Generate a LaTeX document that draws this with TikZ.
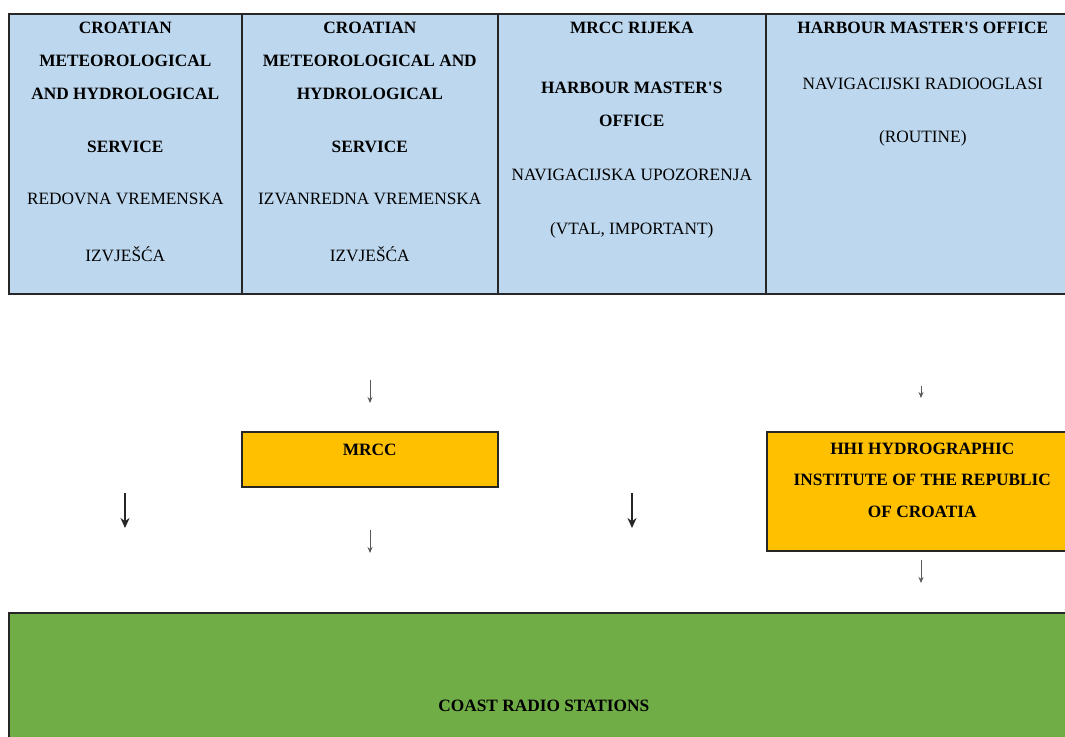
\documentclass[tikz,border=0pt]{standalone}
\usepackage{fontspec}
\setmainfont{Liberation Serif}
\usetikzlibrary{arrows.meta,positioning}
\definecolor{cellblue}{HTML}{BDD7EE}
\definecolor{boxorange}{HTML}{FFC000}
\definecolor{boxgreen}{HTML}{70AD47}
\definecolor{edgegray}{HTML}{262626}
\tikzset{
  cell/.style={draw=edgegray,line width=1.6pt,fill=cellblue,anchor=north west,minimum height=280,inner sep=0},
  obox/.style={draw=edgegray,line width=1.6pt,fill=boxorange,anchor=north west,inner sep=0},
  gbox/.style={draw=edgegray,line width=1.6pt,fill=boxgreen,anchor=north west,inner sep=0},
  celltext/.style={anchor=north,align=center,inner sep=0,font=\fontsize{17.3}{33}\selectfont},
  boxtext/.style={anchor=north,align=center,inner sep=0,font=\fontsize{17.3}{31.5}\selectfont\bfseries},
  thinarrow/.style={draw=black!65,line width=0.9pt,-{Stealth[length=6pt,width=5pt]}},
  thickarrow/.style={draw=black!85,line width=1.6pt,-{Stealth[length=10pt,width=9pt]}}
}
\begin{document}
\begin{tikzpicture}[x=1pt,y=-1pt]
  \useasboundingbox (0,0) rectangle (1065,736);
  \clip (0,0) rectangle (1065,736);
  \fill[white] (0,0) rectangle (1065,736);

  % top table
  \node [cell,minimum width=233] (met) at (8,13) {};
  \node [cell,minimum width=256] (metx) at (241,13) {};
  \node [cell,minimum width=268] (rijeka) at (497,13) {};
  \node [cell,minimum width=314] (harbour) at (765,13) {};

  \node [celltext] (mettxt) at ([yshift=-8.5]met.north)
    {\textbf{CROATIAN}\\\textbf{METEOROLOGICAL}\\\textbf{AND HYDROLOGICAL}\\[20pt]
     \textbf{SERVICE}\\[19pt]REDOVNA VREMENSKA\\[24pt]IZVJEŠĆA};
  \node [celltext] (metxtxt) at ([yshift=-8.5]metx.north)
    {\textbf{CROATIAN}\\\textbf{METEOROLOGICAL AND}\\\textbf{HYDROLOGICAL}\\[20pt]
     \textbf{SERVICE}\\[19pt]IZVANREDNA VREMENSKA\\[24pt]IZVJEŠĆA};
  \node [celltext] (rijekatxt) at ([yshift=-8.5]rijeka.north)
    {\textbf{MRCC RIJEKA}\\[27pt]\textbf{HARBOUR MASTER\textquotesingle S}\\\textbf{OFFICE}\\[21pt]
     NAVIGACIJSKA UPOZORENJA\\[21pt](VTAL, IMPORTANT)};
  \node [celltext] (harbourtxt) at ([yshift=-8.5]harbour.north)
    {\textbf{HARBOUR MASTER\textquotesingle S OFFICE}\\[23pt]NAVIGACIJSKI RADIOOGLASI\\[20pt](ROUTINE)};

  % middle boxes
  \node [obox,minimum width=256,minimum height=55] (mrcc) at (241,431) {};
  \node [boxtext] (mrcctxt) at ([yshift=-12.5]mrcc.north) {MRCC};
  \node [obox,minimum width=311,minimum height=119] (hhi) at (766,431) {};
  \node [boxtext] (hhitxt) at ([yshift=-11.5]hhi.north)
    {HHI HYDROGRAPHIC\\INSTITUTE OF THE REPUBLIC\\OF CROATIA};

  % bottom box
  \node [gbox,minimum width=1070,minimum height=140] (coast) at (8,612) {};
  \node [boxtext] (coasttxt) at ([yshift=-87.5]coast.north) {COAST RADIO STATIONS};

  % arrows
  \coordinate (a1) at (370,380); \coordinate (a1e) at (370,403);
  \coordinate (a2) at (370,530); \coordinate (a2e) at (370,553);
  \coordinate (a3) at (921,386); \coordinate (a3e) at (921,398);
  \coordinate (a4) at (921,560); \coordinate (a4e) at (921,583);
  \coordinate (b1) at (125,493); \coordinate (b1e) at (125,528);
  \coordinate (b2) at (632,493); \coordinate (b2e) at (632,528);
  \draw [thinarrow] (a1) -- (a1e);
  \draw [thinarrow] (a2) -- (a2e);
  \draw [thinarrow] (a3) -- (a3e);
  \draw [thinarrow] (a4) -- (a4e);
  \draw [thickarrow] (b1) -- (b1e);
  \draw [thickarrow] (b2) -- (b2e);
\end{tikzpicture}
\end{document}
